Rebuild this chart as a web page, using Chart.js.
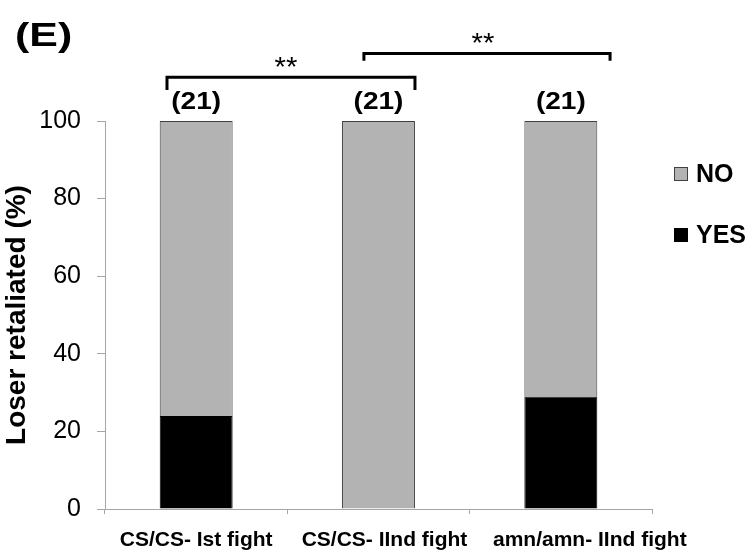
<!DOCTYPE html>
<html>
<head>
<meta charset="utf-8">
<script src="https://cdn.jsdelivr.net/npm/chart.js@4/dist/chart.umd.min.js"></script>
<style>
  html, body { margin: 0; padding: 0; background: #fff; }
  canvas { display: block; }
</style>
</head>
<body>
<canvas id="chart" width="751" height="554"></canvas>
<script>
// ---- data ----
const categories = ['CS/CS- Ist fight', 'CS/CS- IInd fight', 'amn/amn- IInd fight'];
const yesPct = [24, 0, 29];
const noPct = [76, 100, 71];
const sampleSizes = [21, 21, 21];
const yTicks = [0, 20, 40, 60, 80, 100];
const comparisons = [
  { pair: [0, 1], mark: '**' },
  { pair: [1, 2], mark: '**' }
];
const panelLabel = '(E)';

// ---- styling / annotation geometry ----
const FONT = '"Liberation Sans", Arial, Helvetica, sans-serif';
const AXIS_GREY = '#a6a6a6';
const NO_FILL = '#b3b3b3';
const NO_EDGE = '#404040';
const YES_FILL = '#000000';

// horizontal nudge (px) of each category label so the long names don't collide
const xLabelNudge = [0, 6, 29];

// bracket ends are offsets (in category widths) from the compared bars' centres;
// level / tip are heights in axis units above the 100% line
const bracketGeom = [
  { x0: -0.16, x1: 0.20, level: 111.3, tip: 108.0, markDx: -5 },
  { x0: -0.08, x1: 0.27, level: 117.4, tip: 115.5, markDx: -4 }
];

function stretchedText(ctx, text, x, y, font, sx, align, baseline) {
  ctx.save();
  ctx.translate(x, y);
  ctx.scale(sx, 1);
  ctx.font = font;
  ctx.fillStyle = '#000';
  ctx.textAlign = align;
  ctx.textBaseline = baseline;
  ctx.fillText(text, 0, 0);
  ctx.restore();
}

// shifts the computed category label positions before the axis is painted
const labelNudge = {
  id: 'labelNudge',
  beforeDraw(chart) {
    const x = chart.scales.x;
    const items = x.getLabelItems(chart.chartArea);
    if (items._nudged) return;
    items.forEach((it, i) => { it.options.translation[0] += (xLabelNudge[i] || 0); });
    items._nudged = true;
  }
};

const annotations = {
  id: 'annotations',
  afterDraw(chart) {
    const { ctx, scales: { x, y } } = chart;
    const band = (x.right - x.left) / categories.length;
    ctx.save();

    // panel letter
    stretchedText(ctx, panelLabel, 15, 46, 'bold 33px ' + FONT, 1.3, 'left', 'alphabetic');

    // group sizes above each bar
    sampleSizes.forEach((n, i) => {
      const top = y.getPixelForValue(yesPct[i] + noPct[i]);
      stretchedText(ctx, '(' + n + ')', x.getPixelForValue(i), top - 12,
        'bold 23px ' + FONT, 1.22, 'center', 'alphabetic');
    });

    // significance brackets
    comparisons.forEach((c, k) => {
      const g = bracketGeom[k];
      const xa = x.getPixelForValue(c.pair[0]) + g.x0 * band;
      const xb = x.getPixelForValue(c.pair[1]) + g.x1 * band;
      const yl = y.getPixelForValue(g.level);
      const yt = y.getPixelForValue(g.tip);
      ctx.beginPath();
      ctx.moveTo(xa, yt);
      ctx.lineTo(xa, yl);
      ctx.lineTo(xb, yl);
      ctx.lineTo(xb, yt);
      ctx.lineWidth = 3;
      ctx.lineJoin = 'miter';
      ctx.lineCap = 'butt';
      ctx.strokeStyle = '#000';
      ctx.stroke();
      stretchedText(ctx, c.mark, (xa + xb) / 2 + g.markDx, yl - 1,
        '28px ' + FONT, 1.05, 'center', 'alphabetic');
    });

    // legend (top series first)
    const items = chart.data.datasets.slice().reverse();
    items.forEach((ds, i) => {
      const cy = 174 + i * 61;
      ctx.fillStyle = ds.backgroundColor;
      ctx.fillRect(674, cy - 7, 14, 14);
      ctx.lineWidth = 1;
      ctx.strokeStyle = ds.borderColor;
      ctx.strokeRect(674.5, cy - 6.5, 13, 13);
      ctx.fillStyle = '#000';
      ctx.font = 'bold 25px ' + FONT;
      ctx.textAlign = 'left';
      ctx.textBaseline = 'middle';
      ctx.fillText(ds.label, 696, cy + 1);
    });

    ctx.restore();
  }
};

new Chart(document.getElementById('chart'), {
  type: 'bar',
  data: {
    labels: categories,
    datasets: [
      {
        label: 'YES',
        data: yesPct,
        backgroundColor: YES_FILL,
        borderColor: '#000000',
        borderWidth: 1,
        barPercentage: 0.4,
        categoryPercentage: 1.0
      },
      {
        label: 'NO',
        data: noPct,
        backgroundColor: NO_FILL,
        borderColor: NO_EDGE,
        borderWidth: 1,
        barPercentage: 0.4,
        categoryPercentage: 1.0
      }
    ]
  },
  options: {
    responsive: false,
    animation: false,
    devicePixelRatio: 1,
    layout: { padding: { left: 0, right: 99, top: 121, bottom: 0 } },
    plugins: {
      legend: { display: false },
      tooltip: { enabled: false }
    },
    scales: {
      x: {
        stacked: true,
        offset: true,
        grid: { display: true, offset: true, drawOnChartArea: false, drawTicks: true, tickLength: 5, color: AXIS_GREY },
        border: { display: true, color: AXIS_GREY, width: 1 },
        ticks: { color: '#000', padding: 14, font: { family: FONT, size: 21, weight: 'bold' }, maxRotation: 0, autoSkip: false },
        afterFit(scale) { scale.height = 45; }
      },
      y: {
        stacked: true,
        min: yTicks[0],
        max: yTicks[yTicks.length - 1],
        afterBuildTicks(scale) { scale.ticks = yTicks.map(v => ({ value: v })); },
        grid: { display: true, drawOnChartArea: false, drawTicks: true, tickLength: 8, color: AXIS_GREY },
        border: { display: true, color: AXIS_GREY, width: 1 },
        ticks: { color: '#000', padding: 16, font: { family: FONT, size: 25 } },
        title: {
          display: true,
          text: 'Loser retaliated (%)',
          color: '#000',
          padding: { top: 0, bottom: 0 },
          font: { family: FONT, size: 28, weight: 'bold' }
        },
        afterFit(scale) { scale.width = 105; }
      }
    }
  },
  plugins: [labelNudge, annotations]
});
</script>
</body>
</html>
